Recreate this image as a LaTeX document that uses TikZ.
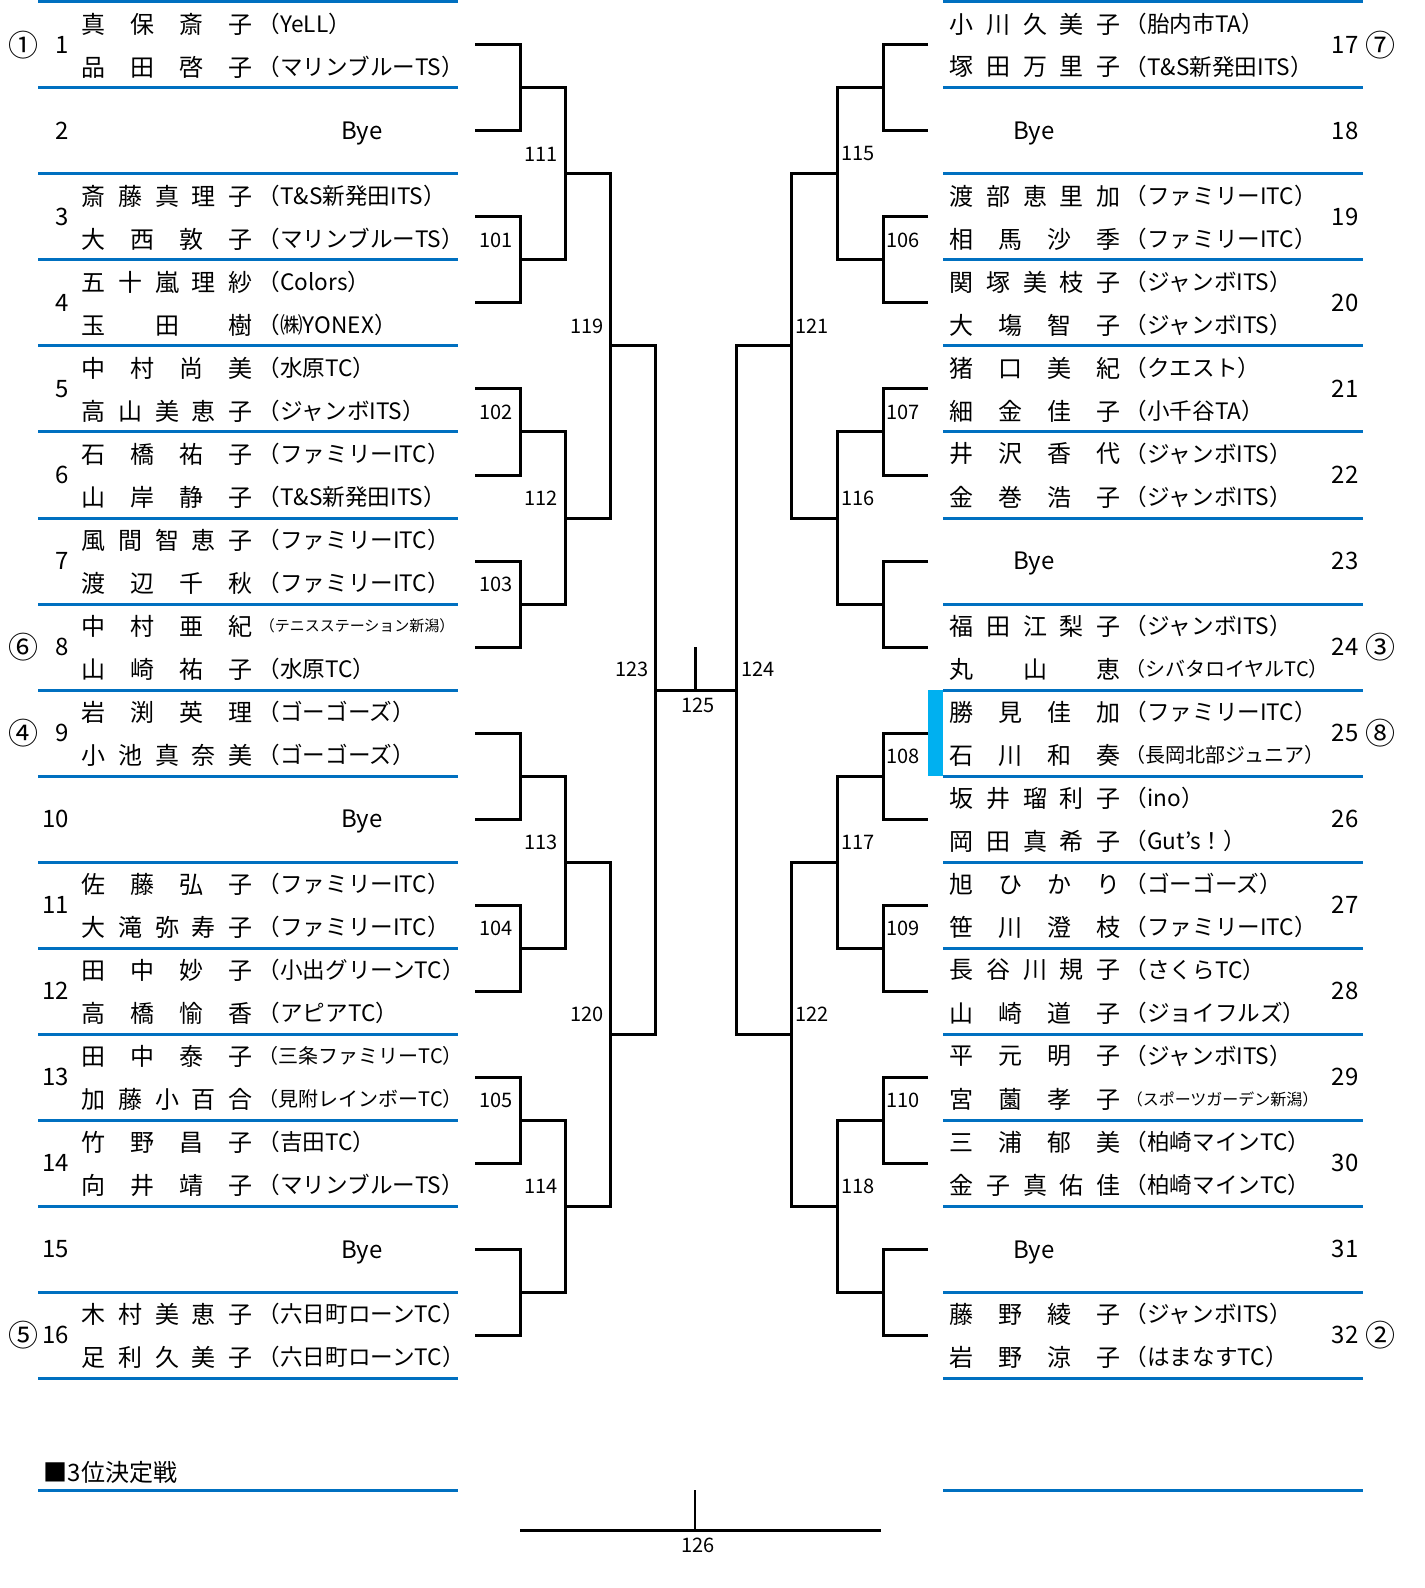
\documentclass[tikz,border=0pt]{standalone}
\usepackage{fontspec}
\setmainfont{Noto Sans CJK JP}
\definecolor{blueline}{RGB}{0,112,192}
\definecolor{cyanbar}{RGB}{0,176,240}
% spread the letters of a name over a fixed width
\def\spreadrest#1{\ifx#1\relax\else\hfill#1\expandafter\spreadrest\fi}
\def\spreadfirst#1{#1\spreadrest}
\newcommand{\spreadname}[1]{\makebox[85.5pt][s]{\spreadfirst#1\relax}}
\tikzset{every picture/.style={line width=0.75pt}}
\tikzset{
  bracket/.style={line width=1.5pt},
  rowline/.style={draw=blueline, line width=1.5pt},
  pname/.style={anchor=west, inner sep=0pt, font=\fontsize{12}{14}\selectfont},
  pclub/.style={anchor=west, inner sep=0pt, font=\fontsize{11.3}{13}\selectfont},
  pclubs/.style={pclub, font=\fontsize{10}{12}\selectfont},
  pnum/.style={inner sep=0pt, font=\fontsize{12}{14}\selectfont},
  pseed/.style={inner sep=0pt, font=\fontsize{15}{17}\selectfont},
  mlabel/.style={inner sep=0pt, font=\fontsize{10}{12}\selectfont},
}

\begin{document}
\begin{tikzpicture}[x=0.5pt,y=0.5pt,yscale=-1]
\useasboundingbox (0,0) rectangle (1424,1588);

%Row lines
\foreach \y in {2,88,...,1378} {
  \draw[rowline] (38,\y) -- (458,\y);
  \draw[rowline] (943,\y) -- (1363,\y);
}
\draw[rowline] (38,1490) -- (458,1490);
\draw[rowline] (943,1490) -- (1363,1490);
%Marker bar
\fill[cyanbar] (928,690) rectangle (943,776);

%Entry points
\coordinate (e1) at (475,45);   \coordinate (e2) at (475,131);
\coordinate (e3) at (475,217);  \coordinate (e4) at (475,303);
\coordinate (e5) at (475,389);  \coordinate (e6) at (475,475);
\coordinate (e7) at (475,561);  \coordinate (e8) at (475,647);
\coordinate (e9) at (475,733);  \coordinate (e10) at (475,819);
\coordinate (e11) at (475,905); \coordinate (e12) at (475,991);
\coordinate (e13) at (475,1077); \coordinate (e14) at (475,1163);
\coordinate (e15) at (475,1249); \coordinate (e16) at (475,1335);
\coordinate (e17) at (928,45);   \coordinate (e18) at (928,131);
\coordinate (e19) at (928,217);  \coordinate (e20) at (928,303);
\coordinate (e21) at (928,389);  \coordinate (e22) at (928,475);
\coordinate (e23) at (928,561);  \coordinate (e24) at (928,647);
\coordinate (e25) at (928,733);  \coordinate (e26) at (928,819);
\coordinate (e27) at (928,905);  \coordinate (e28) at (928,991);
\coordinate (e29) at (928,1077); \coordinate (e30) at (928,1163);
\coordinate (e31) at (928,1249); \coordinate (e32) at (928,1335);

%Match points, left half
\coordinate (j12) at (520,88);
\coordinate (m101) at (520,260);
\coordinate (m102) at (520,432);
\coordinate (m103) at (520,604);
\coordinate (j910) at (520,776);
\coordinate (m104) at (520,948);
\coordinate (m105) at (520,1120);
\coordinate (j1516) at (520,1292);
\coordinate (m111) at (565,174);
\coordinate (m112) at (565,518);
\coordinate (m113) at (565,862);
\coordinate (m114) at (565,1206);
\coordinate (m119) at (610,346);
\coordinate (m120) at (610,1034);
\coordinate (m123) at (655,690);
%Match points, right half
\coordinate (j1718) at (883,88);
\coordinate (m106) at (883,260);
\coordinate (m107) at (883,432);
\coordinate (j2324) at (883,604);
\coordinate (m108) at (883,776);
\coordinate (m109) at (883,948);
\coordinate (m110) at (883,1120);
\coordinate (j3132) at (883,1292);
\coordinate (m115) at (837,174);
\coordinate (m116) at (837,518);
\coordinate (m117) at (837,862);
\coordinate (m118) at (837,1206);
\coordinate (m121) at (791,346);
\coordinate (m122) at (791,1034);
\coordinate (m124) at (736,690);
%Final and third place
\coordinate (m125) at (695,690);
\coordinate (t125) at (695,647);
\coordinate (t126) at (695,1490);
\coordinate (m126) at (695,1530);
\coordinate (p126l) at (520,1530);
\coordinate (p126r) at (881,1530);

%Bracket lines, left half
\draw[bracket] (e1) -| (j12) |- (e2);
\draw[bracket] (e3) -| (m101) |- (e4);
\draw[bracket] (e5) -| (m102) |- (e6);
\draw[bracket] (e7) -| (m103) |- (e8);
\draw[bracket] (e9) -| (j910) |- (e10);
\draw[bracket] (e11) -| (m104) |- (e12);
\draw[bracket] (e13) -| (m105) |- (e14);
\draw[bracket] (e15) -| (j1516) |- (e16);
\draw[bracket] (j12) -| (m111) |- (m101);
\draw[bracket] (m102) -| (m112) |- (m103);
\draw[bracket] (j910) -| (m113) |- (m104);
\draw[bracket] (m105) -| (m114) |- (j1516);
\draw[bracket] (m111) -| (m119) |- (m112);
\draw[bracket] (m113) -| (m120) |- (m114);
\draw[bracket] (m119) -| (m123) |- (m120);
%Bracket lines, right half
\draw[bracket] (e17) -| (j1718) |- (e18);
\draw[bracket] (e19) -| (m106) |- (e20);
\draw[bracket] (e21) -| (m107) |- (e22);
\draw[bracket] (e23) -| (j2324) |- (e24);
\draw[bracket] (e25) -| (m108) |- (e26);
\draw[bracket] (e27) -| (m109) |- (e28);
\draw[bracket] (e29) -| (m110) |- (e30);
\draw[bracket] (e31) -| (j3132) |- (e32);
\draw[bracket] (j1718) -| (m115) |- (m106);
\draw[bracket] (m107) -| (m116) |- (j2324);
\draw[bracket] (m108) -| (m117) |- (m109);
\draw[bracket] (m110) -| (m118) |- (j3132);
\draw[bracket] (m115) -| (m121) |- (m116);
\draw[bracket] (m117) -| (m122) |- (m118);
\draw[bracket] (m121) -| (m124) |- (m122);
%Final
\draw[bracket] (m123) -- (m124);
\draw[bracket] (t125) -- (m125);
%Third place
\draw[bracket] (p126l) -- (p126r);
\draw[line width=1pt] (t126) -- (m126);

%Match numbers
\node[mlabel] (l101) at (496,240) {101};
\node[mlabel] (l102) at (496,412) {102};
\node[mlabel] (l103) at (496,584) {103};
\node[mlabel] (l104) at (496,928) {104};
\node[mlabel] (l105) at (496,1100) {105};
\node[mlabel] (l111) at (541,154) {111};
\node[mlabel] (l112) at (541,498) {112};
\node[mlabel] (l113) at (541,842) {113};
\node[mlabel] (l114) at (541,1186) {114};
\node[mlabel] (l119) at (587,326) {119};
\node[mlabel] (l120) at (587,1014) {120};
\node[mlabel] (l123) at (632,669) {123};
\node[mlabel] (l125) at (698,705) {125};
\node[mlabel] (l124) at (758,669) {124};
\node[mlabel] (l121) at (812,326) {121};
\node[mlabel] (l122) at (812,1014) {122};
\node[mlabel] (l115) at (858,154) {115};
\node[mlabel] (l116) at (858,498) {116};
\node[mlabel] (l117) at (858,842) {117};
\node[mlabel] (l118) at (858,1186) {118};
\node[mlabel] (l106) at (903,240) {106};
\node[mlabel] (l107) at (903,412) {107};
\node[mlabel] (l108) at (903,756) {108};
\node[mlabel] (l109) at (903,928) {109};
\node[mlabel] (l110) at (903,1100) {110};
\node[mlabel] (l126) at (698,1545) {126};

%Draw numbers, left
\node[pnum, anchor=east] (d1) at (70,45) {1};
\node[pnum, anchor=east] (d2) at (70,131) {2};
\node[pnum, anchor=east] (d3) at (70,217) {3};
\node[pnum, anchor=east] (d4) at (70,303) {4};
\node[pnum, anchor=east] (d5) at (70,389) {5};
\node[pnum, anchor=east] (d6) at (70,475) {6};
\node[pnum, anchor=east] (d7) at (70,561) {7};
\node[pnum, anchor=east] (d8) at (70,647) {8};
\node[pnum, anchor=east] (d9) at (70,733) {9};
\node[pnum, anchor=east] (d10) at (70,819) {10};
\node[pnum, anchor=east] (d11) at (70,905) {11};
\node[pnum, anchor=east] (d12) at (70,991) {12};
\node[pnum, anchor=east] (d13) at (70,1077) {13};
\node[pnum, anchor=east] (d14) at (70,1163) {14};
\node[pnum, anchor=east] (d15) at (70,1249) {15};
\node[pnum, anchor=east] (d16) at (70,1335) {16};
%Draw numbers, right
\node[pnum] (d17) at (1345,45) {17};
\node[pnum] (d18) at (1345,131) {18};
\node[pnum] (d19) at (1345,217) {19};
\node[pnum] (d20) at (1345,303) {20};
\node[pnum] (d21) at (1345,389) {21};
\node[pnum] (d22) at (1345,475) {22};
\node[pnum] (d23) at (1345,561) {23};
\node[pnum] (d24) at (1345,647) {24};
\node[pnum] (d25) at (1345,733) {25};
\node[pnum] (d26) at (1345,819) {26};
\node[pnum] (d27) at (1345,905) {27};
\node[pnum] (d28) at (1345,991) {28};
\node[pnum] (d29) at (1345,1077) {29};
\node[pnum] (d30) at (1345,1163) {30};
\node[pnum] (d31) at (1345,1249) {31};
\node[pnum] (d32) at (1345,1335) {32};

%Seeds
\node[pseed] (s1) at (24,45) {①};
\node[pseed] (s6) at (24,647) {⑥};
\node[pseed] (s4) at (24,733) {④};
\node[pseed] (s5) at (24,1335) {⑤};
\node[pseed] (s7) at (1380,45) {⑦};
\node[pseed] (s3) at (1380,647) {③};
\node[pseed] (s8) at (1380,733) {⑧};
\node[pseed] (s2) at (1380,1335) {②};

%Byes
\node[pnum] (bye2) at (362,134) {Bye};
\node[pnum] (bye10) at (362,822) {Bye};
\node[pnum] (bye15) at (362,1252) {Bye};
\node[pnum] (bye18) at (1034,134) {Bye};
\node[pnum] (bye23) at (1034,564) {Bye};
\node[pnum] (bye31) at (1034,1252) {Bye};

%Players, left half
\node[pname] (n1a) at (81,24) {\spreadname{真保斎子}};
\node[pclub] (c1a) at (257,24) {（YeLL）};
\node[pname] (n1b) at (81,67) {\spreadname{品田啓子}};
\node[pclub] (c1b) at (257,67) {（マリンブルーTS）};
\node[pname] (n3a) at (81,196) {\spreadname{斎藤真理子}};
\node[pclub] (c3a) at (257,196) {（T\&S新発田ITS）};
\node[pname] (n3b) at (81,239) {\spreadname{大西敦子}};
\node[pclub] (c3b) at (257,239) {（マリンブルーTS）};
\node[pname] (n4a) at (81,282) {\spreadname{五十嵐理紗}};
\node[pclub] (c4a) at (257,282) {（Colors）};
\node[pname] (n4b) at (81,325) {\spreadname{玉田樹}};
\node[pclub] (c4b) at (257,325) {（㈱YONEX）};
\node[pname] (n5a) at (81,368) {\spreadname{中村尚美}};
\node[pclub] (c5a) at (257,368) {（水原TC）};
\node[pname] (n5b) at (81,411) {\spreadname{高山美恵子}};
\node[pclub] (c5b) at (257,411) {（ジャンボITS）};
\node[pname] (n6a) at (81,454) {\spreadname{石橋祐子}};
\node[pclub] (c6a) at (257,454) {（ファミリーITC）};
\node[pname] (n6b) at (81,497) {\spreadname{山岸静子}};
\node[pclub] (c6b) at (257,497) {（T\&S新発田ITS）};
\node[pname] (n7a) at (81,540) {\spreadname{風間智恵子}};
\node[pclub] (c7a) at (257,540) {（ファミリーITC）};
\node[pname] (n7b) at (81,583) {\spreadname{渡辺千秋}};
\node[pclub] (c7b) at (257,583) {（ファミリーITC）};
\node[pname] (n8a) at (81,626) {\spreadname{中村亜紀}};
\node[pclub, font=\fontsize{7.5}{9}\selectfont] (c8a) at (259,626) {（テニスステーション新潟）};
\node[pname] (n8b) at (81,669) {\spreadname{山崎祐子}};
\node[pclub] (c8b) at (257,669) {（水原TC）};
\node[pname] (n9a) at (81,712) {\spreadname{岩渕英理}};
\node[pclub] (c9a) at (257,712) {（ゴーゴーズ）};
\node[pname] (n9b) at (81,755) {\spreadname{小池真奈美}};
\node[pclub] (c9b) at (257,755) {（ゴーゴーズ）};
\node[pname] (n11a) at (81,884) {\spreadname{佐藤弘子}};
\node[pclub] (c11a) at (257,884) {（ファミリーITC）};
\node[pname] (n11b) at (81,927) {\spreadname{大滝弥寿子}};
\node[pclub] (c11b) at (257,927) {（ファミリーITC）};
\node[pname] (n12a) at (81,970) {\spreadname{田中妙子}};
\node[pclub] (c12a) at (257,970) {（小出グリーンTC）};
\node[pname] (n12b) at (81,1013) {\spreadname{高橋愉香}};
\node[pclub] (c12b) at (257,1013) {（アピアTC）};
\node[pname] (n13a) at (81,1056) {\spreadname{田中泰子}};
\node[pclubs] (c13a) at (258,1056) {（三条ファミリーTC）};
\node[pname] (n13b) at (81,1099) {\spreadname{加藤小百合}};
\node[pclubs] (c13b) at (258,1099) {（見附レインボーTC）};
\node[pname] (n14a) at (81,1142) {\spreadname{竹野昌子}};
\node[pclub] (c14a) at (257,1142) {（吉田TC）};
\node[pname] (n14b) at (81,1185) {\spreadname{向井靖子}};
\node[pclub] (c14b) at (257,1185) {（マリンブルーTS）};
\node[pname] (n16a) at (81,1314) {\spreadname{木村美恵子}};
\node[pclub] (c16a) at (257,1314) {（六日町ローンTC）};
\node[pname] (n16b) at (81,1357) {\spreadname{足利久美子}};
\node[pclub] (c16b) at (257,1357) {（六日町ローンTC）};

%Players, right half
\node[pname] (n17a) at (949,24) {\spreadname{小川久美子}};
\node[pclub] (c17a) at (1124,24) {（胎内市TA）};
\node[pname] (n17b) at (949,67) {\spreadname{塚田万里子}};
\node[pclub] (c17b) at (1124,67) {（T\&S新発田ITS）};
\node[pname] (n19a) at (949,196) {\spreadname{渡部恵里加}};
\node[pclub] (c19a) at (1124,196) {（ファミリーITC）};
\node[pname] (n19b) at (949,239) {\spreadname{相馬沙季}};
\node[pclub] (c19b) at (1124,239) {（ファミリーITC）};
\node[pname] (n20a) at (949,282) {\spreadname{関塚美枝子}};
\node[pclub] (c20a) at (1124,282) {（ジャンボITS）};
\node[pname] (n20b) at (949,325) {\spreadname{大塲智子}};
\node[pclub] (c20b) at (1124,325) {（ジャンボITS）};
\node[pname] (n21a) at (949,368) {\spreadname{猪口美紀}};
\node[pclub] (c21a) at (1124,368) {（クエスト）};
\node[pname] (n21b) at (949,411) {\spreadname{細金佳子}};
\node[pclub] (c21b) at (1124,411) {（小千谷TA）};
\node[pname] (n22a) at (949,454) {\spreadname{井沢香代}};
\node[pclub] (c22a) at (1124,454) {（ジャンボITS）};
\node[pname] (n22b) at (949,497) {\spreadname{金巻浩子}};
\node[pclub] (c22b) at (1124,497) {（ジャンボITS）};
\node[pname] (n24a) at (949,626) {\spreadname{福田江梨子}};
\node[pclub] (c24a) at (1124,626) {（ジャンボITS）};
\node[pname] (n24b) at (949,669) {\spreadname{丸山恵}};
\node[pclubs] (c24b) at (1125,669) {（シバタロイヤルTC）};
\node[pname] (n25a) at (949,712) {\spreadname{勝見佳加}};
\node[pclub] (c25a) at (1124,712) {（ファミリーITC）};
\node[pname] (n25b) at (949,755) {\spreadname{石川和奏}};
\node[pclubs] (c25b) at (1125,755) {（長岡北部ジュニア）};
\node[pname] (n26a) at (949,798) {\spreadname{坂井瑠利子}};
\node[pclub] (c26a) at (1124,798) {（ino）};
\node[pname] (n26b) at (949,841) {\spreadname{岡田真希子}};
\node[pclub] (c26b) at (1124,841) {（Gut’s！）};
\node[pname] (n27a) at (949,884) {\spreadname{旭ひかり}};
\node[pclub] (c27a) at (1124,884) {（ゴーゴーズ）};
\node[pname] (n27b) at (949,927) {\spreadname{笹川澄枝}};
\node[pclub] (c27b) at (1124,927) {（ファミリーITC）};
\node[pname] (n28a) at (949,970) {\spreadname{長谷川規子}};
\node[pclub] (c28a) at (1124,970) {（さくらTC）};
\node[pname] (n28b) at (949,1013) {\spreadname{山崎道子}};
\node[pclub] (c28b) at (1124,1013) {（ジョイフルズ）};
\node[pname] (n29a) at (949,1056) {\spreadname{平元明子}};
\node[pclub] (c29a) at (1124,1056) {（ジャンボITS）};
\node[pname] (n29b) at (949,1099) {\spreadname{宮薗孝子}};
\node[pclub, font=\fontsize{8}{10}\selectfont] (c29b) at (1126,1099) {（スポーツガーデン新潟）};
\node[pname] (n30a) at (949,1142) {\spreadname{三浦郁美}};
\node[pclub] (c30a) at (1124,1142) {（柏崎マインTC）};
\node[pname] (n30b) at (949,1185) {\spreadname{金子真佑佳}};
\node[pclub] (c30b) at (1124,1185) {（柏崎マインTC）};
\node[pname] (n32a) at (949,1314) {\spreadname{藤野綾子}};
\node[pclub] (c32a) at (1124,1314) {（ジャンボITS）};
\node[pname] (n32b) at (949,1357) {\spreadname{岩野涼子}};
\node[pclub] (c32b) at (1124,1357) {（はまなすTC）};

%Third place title
\node[pname] (third) at (43,1472) {■3位決定戦};

\end{tikzpicture}
\end{document}
